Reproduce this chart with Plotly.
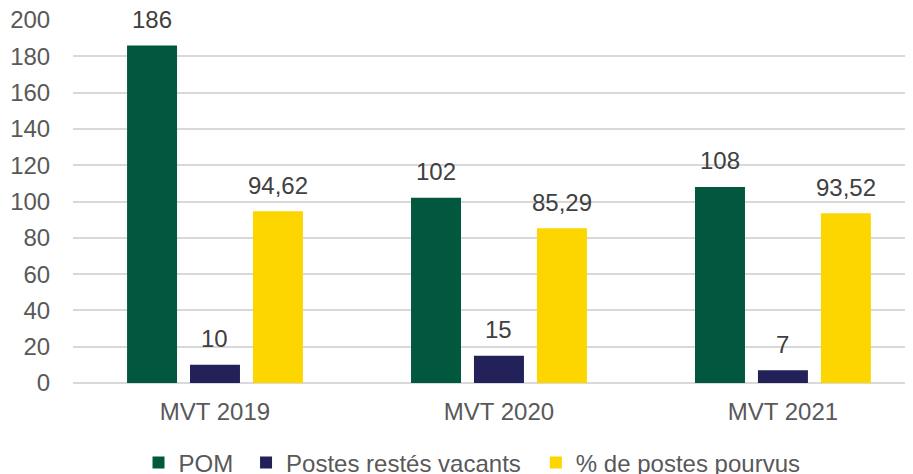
import plotly.graph_objects as go

categories = ["MVT 2019", "MVT 2020", "MVT 2021"]
pom = [186, 102, 108]
vacants = [10, 15, 7]
pourvus = [94.62, 85.29, 93.52]
series_names = ["POM", "Postes restés vacants", "% de postes pourvus"]
colors = ["#02583F", "#22215A", "#FDD600"]
y_ticks = [0, 20, 40, 60, 80, 100, 120, 140, 160, 180, 200]

def fmt(v):
    s = f"{v:.2f}".rstrip("0").rstrip(".") if isinstance(v, float) else str(v)
    return s.replace(".", ",")

FONT = "Liberation Sans, Arial, sans-serif"
TXT = "#595959"
FS = 24

fig = go.Figure()
series = [pom, vacants, pourvus]
legends = ["legend2", "legend3", "legend4"]
for name, vals, col, lg in zip(series_names, series, colors, legends):
    fig.add_trace(go.Bar(
        x=categories, y=vals, name=name, marker_color=col,
        marker_line_width=0, legend=lg,
    ))

# value labels above bars, placed via data coordinates with pixel shift
bar_slot = 1 - 0.335
slot = bar_slot / 3
for i, vals in enumerate(series):
    for j, v in enumerate(vals):
        fig.add_annotation(
            x=j + (i - 1) * slot, y=v, xref="x", yref="y",
            text=fmt(v), showarrow=False, yanchor="middle", yshift=26,
            font=dict(family=FONT, size=FS, color="#404040"),
        )

leg_common = dict(orientation="h", yanchor="middle", y=-0.22, xanchor="left",
                  bgcolor="rgba(0,0,0,0)", font=dict(family=FONT, size=FS, color=TXT),
                  itemwidth=30)

# page body adds an 8px offset, so the figure is 8px smaller than the window
fig.update_layout(
    width=905, height=466,
    margin=dict(l=65, r=0, t=12, b=91, autoexpand=False),
    paper_bgcolor="white", plot_bgcolor="white",
    barmode="group", bargap=0.335, bargroupgap=0.206,
    font=dict(family=FONT, size=FS, color=TXT),
    showlegend=True,
    xaxis=dict(range=[-0.5, 2.458], showgrid=False, showline=False,
               ticks="", ticklabelstandoff=12, automargin=False,
               tickfont=dict(family=FONT, size=FS, color=TXT)),
    yaxis=dict(range=[0, 200], tickvals=y_ticks, showgrid=True,
               gridcolor="#D9D9D9", gridwidth=1.5, zeroline=True,
               zerolinecolor="#D9D9D9", zerolinewidth=1.5,
               ticks="outside", ticklen=17, tickcolor="rgba(0,0,0,0)",
               automargin=False, ticklabeloverflow="allow",
               tickfont=dict(family=FONT, size=FS, color=TXT)),
    legend2=dict(x=0.078, **leg_common),
    legend3=dict(x=0.206, **leg_common),
    legend4=dict(x=0.551, **leg_common),
)

fig.write_html("out.html")
